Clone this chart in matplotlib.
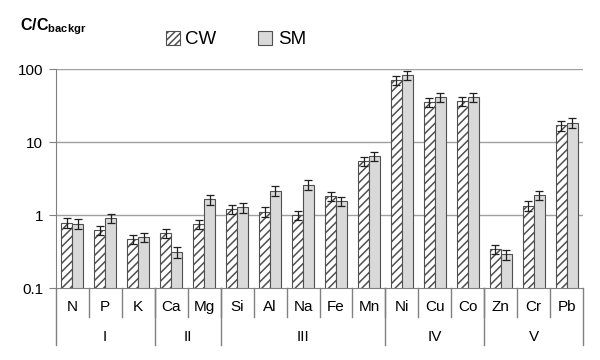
import matplotlib
matplotlib.use('Agg')
import matplotlib.pyplot as plt
import numpy as np
from matplotlib.patches import Patch

plt.rcParams['font.family'] = ['Liberation Sans', 'DejaVu Sans']
plt.rcParams['mathtext.fontset'] = 'custom'
plt.rcParams['mathtext.rm'] = 'Liberation Sans'
plt.rcParams['mathtext.bf'] = 'Liberation Sans:bold'
plt.rcParams['hatch.linewidth'] = 1.1

elements = ['N', 'P', 'K', 'Ca', 'Mg', 'Si', 'Al', 'Na', 'Fe', 'Mn', 'Ni', 'Cu', 'Co', 'Zn', 'Cr', 'Pb']
groups = ['I', 'II', 'III', 'IV', 'V']
group_sizes = [3, 2, 5, 3, 3]

cw = [0.78, 0.62, 0.47, 0.56, 0.75, 1.2, 1.11, 1.0, 1.82, 5.5, 70, 35, 36, 0.34, 1.34, 16.9]
sm = [0.76, 0.90, 0.50, 0.31, 1.64, 1.27, 2.15, 2.6, 1.54, 6.4, 83, 41, 41, 0.29, 1.88, 18.4]
cw_err = [0.12, 0.09, 0.07, 0.08, 0.11, 0.18, 0.17, 0.15, 0.27, 0.8, 10, 5, 5, 0.05, 0.2, 2.5]
sm_err = [0.11, 0.13, 0.07, 0.05, 0.25, 0.19, 0.32, 0.4, 0.23, 0.95, 12, 6, 6, 0.045, 0.28, 2.7]

fig = plt.figure(figsize=(6, 3.6), dpi=100)
ax = fig.add_axes([0.093, 0.2, 0.879, 0.608])

x = np.arange(len(elements))
w = 0.33
edge = '#505050'
ax.bar(x - w/2, cw, w, color='white', edgecolor=edge, hatch='////', linewidth=0.8, zorder=2)
ax.bar(x + w/2, sm, w, color='#d9d9d9', edgecolor=edge, linewidth=0.8, zorder=2)
ax.errorbar(x - w/2, cw, yerr=cw_err, fmt='none', ecolor='#202020', elinewidth=0.9, capsize=3, capthick=0.9, zorder=3)
ax.errorbar(x + w/2, sm, yerr=sm_err, fmt='none', ecolor='#202020', elinewidth=0.9, capsize=3, capthick=0.9, zorder=3)

ax.set_yscale('log')
ax.set_ylim(0.1, 100)
ax.set_xlim(-0.5, len(elements) - 0.5)
ax.set_yticks([0.1, 1, 10, 100])
ax.set_yticklabels(['0.1', '1', '10', '100'], fontsize=11)
ax.minorticks_off()
ax.tick_params(axis='y', length=5, color='#808080', pad=4)
for v in [1, 10, 100]:
    ax.axhline(v, color='#a0a0a0', linewidth=1, zorder=1)

for s in ['top', 'right']:
    ax.spines[s].set_visible(False)
ax.spines['left'].set_color('#808080')
ax.spines['bottom'].set_color('#808080')

ax.set_xticks([])
trans = ax.get_xaxis_transform()
for i, e in enumerate(elements):
    ax.text(i, -0.087, e, transform=trans, ha='center', va='center', fontsize=11)
for b in range(1, len(elements)):
    ax.plot([b - 0.5, b - 0.5], [0, -0.132], transform=trans, color='#808080', linewidth=1, clip_on=False)

bounds = np.concatenate([[0], np.cumsum(group_sizes)]) - 0.5
for b in bounds:
    ax.plot([b, b], [0, -0.26], transform=trans, color='#808080', linewidth=1, clip_on=False)
for g, lo, hi in zip(groups, bounds[:-1], bounds[1:]):
    ax.text((lo + hi) / 2, -0.224, g, transform=trans, ha='center', va='center', fontsize=11)

fig.text(0.033, 0.925, r'$\mathbf{C/C_{backgr}}$', fontsize=11.5, ha='left', va='center')

handles = [Patch(facecolor='white', edgecolor=edge, hatch='/////', linewidth=0.8),
           Patch(facecolor='#d9d9d9', edgecolor=edge, linewidth=0.8)]
fig.legend(handles, ['CW', 'SM'], loc='center', bbox_to_anchor=(0.393, 0.89), ncol=2,
           frameon=False, fontsize=13.5, handlelength=0.75, handleheight=0.75,
           handletextpad=0.3, columnspacing=2.2)

fig.savefig('out.png', dpi=100)
